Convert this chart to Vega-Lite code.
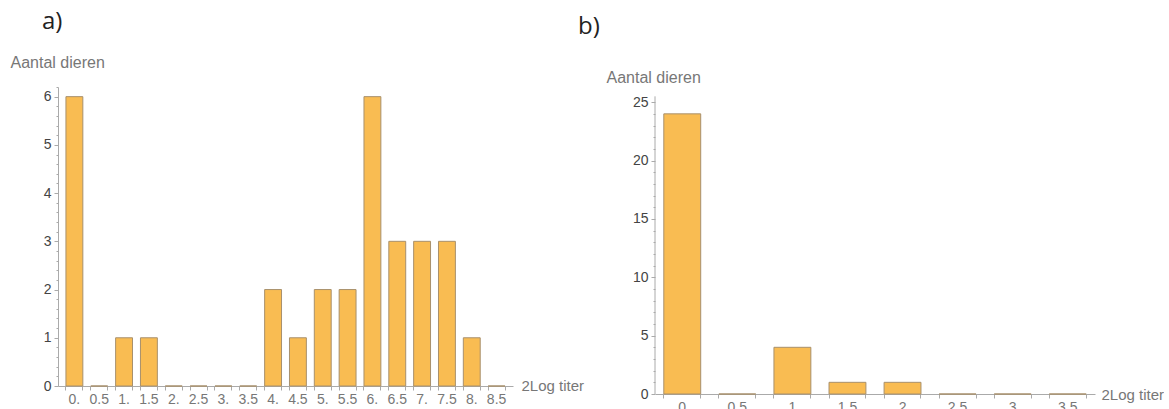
{
  "$schema": "https://vega.github.io/schema/vega-lite/v6.json",
  "padding": {"left": 10, "top": 10, "right": 0, "bottom": 0},
  "spacing": -6,
  "align": "none",
  "datasets": {
    "a": [
      {"titer": 0, "count": 6}, {"titer": 0.5, "count": 0}, {"titer": 1, "count": 1}, {"titer": 1.5, "count": 1},
      {"titer": 2, "count": 0}, {"titer": 2.5, "count": 0}, {"titer": 3, "count": 0}, {"titer": 3.5, "count": 0},
      {"titer": 4, "count": 2}, {"titer": 4.5, "count": 1}, {"titer": 5, "count": 2}, {"titer": 5.5, "count": 2},
      {"titer": 6, "count": 6}, {"titer": 6.5, "count": 3}, {"titer": 7, "count": 3}, {"titer": 7.5, "count": 3},
      {"titer": 8, "count": 1}, {"titer": 8.5, "count": 0}
    ],
    "b": [
      {"titer": 0, "count": 24}, {"titer": 0.5, "count": 0}, {"titer": 1, "count": 4}, {"titer": 1.5, "count": 1},
      {"titer": 2, "count": 1}, {"titer": 2.5, "count": 0}, {"titer": 3, "count": 0}, {"titer": 3.5, "count": 0}
    ]
  },
  "hconcat": [
    {
      "width": 455,
      "height": 299,
      "data": {"name": "a"},
      "title": {"text": "a)", "anchor": "start", "frame": "group", "dx": -16, "offset": 20, "font": "Open Sans", "fontSize": 24, "fontWeight": "normal", "color": "#222"},
      "layer": [
        {
          "mark": {"type": "bar", "fill": "#F9BC52", "stroke": "#a8906c", "strokeWidth": 1},
          "encoding": {
            "x": {"field": "titer", "type": "ordinal", "scale": {"paddingInner": 0.32, "paddingOuter": 0.32},
              "axis": {"labelExpr": "datum.label + (datum.value % 1 == 0 ? '.' : '')", "labelAngle": 0, "ticks": false, "labelPadding": 6,
                "title": "2Log titer", "titleX": 463, "titleY": -1, "titleAlign": "left", "titleBaseline": "middle", "titleAngle": 0, "titleFontSize": 15}},
            "y": {"field": "count", "type": "quantitative", "scale": {"domain": [0, 6.2], "nice": false},
              "axis": {"values": [0, 1, 2, 3, 4, 5, 6], "tickSize": 4, "labelPadding": 3,
                "title": "Aantal dieren", "titleAngle": 0, "titleAlign": "left", "titleBaseline": "middle", "titleX": -48, "titleY": -25}}
          }
        },
        {
          "mark": {"type": "bar", "opacity": 0},
          "encoding": {
            "x": {"field": "titer", "type": "ordinal", "axis": {"orient": "bottom", "labels": false, "domain": false, "ticks": true, "bandPosition": 0, "tickSize": 4, "title": null}},
            "y": {"field": "count", "type": "quantitative", "axis": {"orient": "left", "labels": false, "domain": false, "tickSize": 2, "title": null,
              "values": [0.2,0.4,0.6,0.8,1.2,1.4,1.6,1.8,2.2,2.4,2.6,2.8,3.2,3.4,3.6,3.8,4.2,4.4,4.6,4.8,5.2,5.4,5.6,5.8,6.2]}}
          }
        },
        {
          "mark": {"type": "bar", "opacity": 0},
          "encoding": {
            "x": {"field": "titer", "type": "ordinal", "axis": {"orient": "bottom", "labels": false, "domain": false, "ticks": true, "bandPosition": 1, "tickSize": 4, "title": null}},
            "y": {"field": "count", "type": "quantitative", "axis": null}
          }
        }
      ],
      "resolve": {"axis": {"x": "independent", "y": "independent"}}
    },
    {
      "width": 440,
      "height": 307,
      "data": {"name": "b"},
      "title": {"text": "b)", "anchor": "start", "frame": "group", "dx": -77, "offset": 30, "font": "Open Sans", "fontSize": 24, "fontWeight": "normal", "color": "#222"},
      "layer": [
        {
          "mark": {"type": "bar", "fill": "#F9BC52", "stroke": "#a8906c", "strokeWidth": 1},
          "encoding": {
            "x": {"field": "titer", "type": "ordinal", "scale": {"paddingInner": 0.33, "paddingOuter": 0.16},
              "axis": {"labelAngle": 0, "ticks": false, "labelPadding": 6,
                "title": "2Log titer", "titleX": 446, "titleY": 0, "titleAlign": "left", "titleBaseline": "middle", "titleAngle": 0, "titleFontSize": 15}},
            "y": {"field": "count", "type": "quantitative", "scale": {"domain": [0, 26.3], "nice": false},
              "axis": {"values": [0, 5, 10, 15, 20, 25], "tickSize": 4, "labelPadding": 3, "domain": false,
                "title": "Aantal dieren", "titleAngle": 0, "titleAlign": "left", "titleBaseline": "middle", "titleX": -49, "titleY": -10}}
          }
        },
        {
          "mark": {"type": "bar", "opacity": 0},
          "encoding": {
            "x": {"field": "titer", "type": "ordinal", "scale": {"paddingInner": 0.33, "paddingOuter": 0.16},
              "axis": {"orient": "bottom", "labels": false, "domain": false, "ticks": true, "bandPosition": 0, "tickSize": 4, "title": null}},
            "y": {"field": "count", "type": "quantitative", "axis": {"orient": "left", "labels": false, "domain": false, "tickSize": 2, "title": null,
              "values": [1,2,3,4,6,7,8,9,11,12,13,14,16,17,18,19,21,22,23,24]}}
          }
        },
        {
          "mark": {"type": "bar", "opacity": 0},
          "encoding": {
            "x": {"field": "titer", "type": "ordinal", "scale": {"paddingInner": 0.33, "paddingOuter": 0.16},
              "axis": {"orient": "bottom", "labels": false, "domain": false, "ticks": true, "bandPosition": 1, "tickSize": 4, "title": null}},
            "y": {"field": "count", "type": "quantitative", "axis": null}
          }
        },
        {
          "data": {"values": [{}]},
          "mark": {"type": "rule", "color": "#aaaaaa", "strokeWidth": 1},
          "encoding": {
            "x": {"datum": 0, "type": "quantitative", "scale": {"domain": [0, 1]}, "axis": null},
            "y": {"datum": 0, "type": "quantitative", "axis": null},
            "y2": {"datum": 25.5}
          }
        }
      ],
      "resolve": {"scale": {"x": "independent"}, "axis": {"x": "independent", "y": "independent"}}
    }
  ],
  "config": {
    "view": {"stroke": null},
    "axis": {"grid": false, "domainColor": "#aaaaaa", "tickColor": "#aaaaaa", "labelFont": "Liberation Sans", "labelFontSize": 14, "labelColor": "#444444",
      "titleFont": "Liberation Sans", "titleFontSize": 16, "titleFontWeight": "normal", "titleColor": "#777777"},
    "axisX": {"labelColor": "#777777", "labelFontSize": 14}
  }
}
